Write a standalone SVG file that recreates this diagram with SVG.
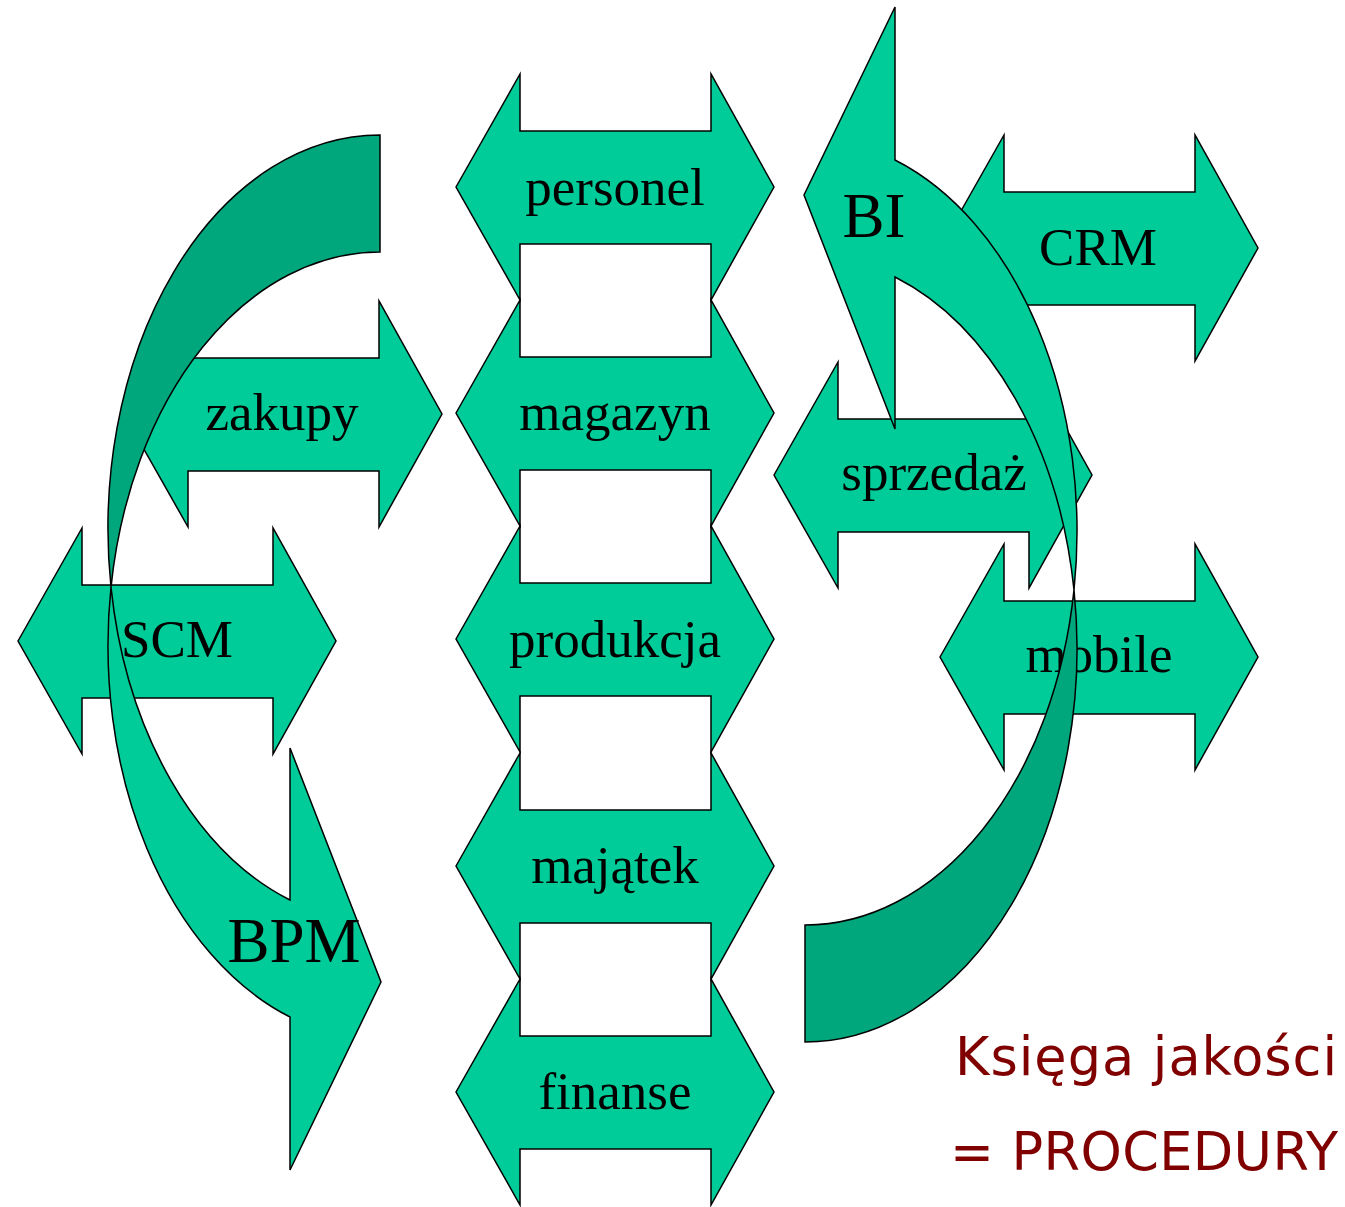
<svg xmlns="http://www.w3.org/2000/svg" xmlns:xlink="http://www.w3.org/1999/xlink" width="1345" height="1207" viewBox="0 0 1345 1207">
<style>
.a{fill:#00CC99;stroke:#000;stroke-width:1.5;stroke-linejoin:miter}
.d{fill:#00A67C;stroke:#000;stroke-width:1.5}
.t{font-family:"Liberation Serif","Times New Roman",serif;font-size:53px;fill:#000;text-anchor:middle}
.big{font-size:63px}
.q{font-family:"DejaVu Sans",Verdana,sans-serif;font-size:52.5px;fill:#800000;letter-spacing:1px}
.p{letter-spacing:0.4px}
</style>
<defs>
<path id="dbl" d="M0,0 L64,-113 L64,-56 L255,-56 L255,-113 L318,0 L255,113 L255,57 L64,57 L64,113 Z"/>
<g id="curve">
<path class="a" d="M111,587.1 A272,393.6 0 0 0 290,1017 L290,1170 L381,982 L290,748 L290,900 A272,393.6 0 0 1 111,587.1 Z"/>
<path class="d" d="M380,135 A272,393.6 0 0 0 111,587.1 A272,393.6 0 0 1 380,252 Z"/>
</g>
</defs>
<rect width="1345" height="1207" fill="#fff"/>
<g id="personel"><use xlink:href="#dbl" class="a" x="456" y="187"/><text class="t" x="615" y="205">personel</text></g>
<g id="magazyn"><use xlink:href="#dbl" class="a" x="456" y="413"/><text class="t" x="615" y="430">magazyn</text></g>
<g id="produkcja"><use xlink:href="#dbl" class="a" x="456" y="639"/><text class="t" x="615" y="657">produkcja</text></g>
<g id="majatek"><use xlink:href="#dbl" class="a" x="456" y="866"/><text class="t" x="615" y="883">majątek</text></g>
<g id="finanse"><use xlink:href="#dbl" class="a" x="456" y="1092"/><text class="t" x="615" y="1109">finanse</text></g>
<g id="zakupy"><use xlink:href="#dbl" class="a" x="124" y="414"/><text class="t" x="282" y="430">zakupy</text></g>
<g id="scm"><use xlink:href="#dbl" class="a" x="18" y="641"/><text class="t" x="177" y="657">SCM</text></g>
<g id="bpm"><use xlink:href="#curve"/><text class="t big" x="294" y="962">BPM</text></g>
<g id="crm"><use xlink:href="#dbl" class="a" x="940" y="248"/><text class="t" x="1098" y="265">CRM</text></g>
<g id="sprzedaz"><use xlink:href="#dbl" class="a" x="774" y="475"/><text class="t" x="934" y="490">sprzedaż</text></g>
<g id="mobile"><use xlink:href="#dbl" class="a" x="940" y="657"/><text class="t" x="1099" y="672">mobile</text></g>
<g id="bi"><use xlink:href="#curve" transform="rotate(180 592.5 588.5)"/><text class="t big" x="874" y="237">BI</text></g>
<g id="note"><text class="q" x="955" y="1075">Księga jakości</text><text class="q p" x="950" y="1170">= PROCEDURY</text></g>
</svg>
